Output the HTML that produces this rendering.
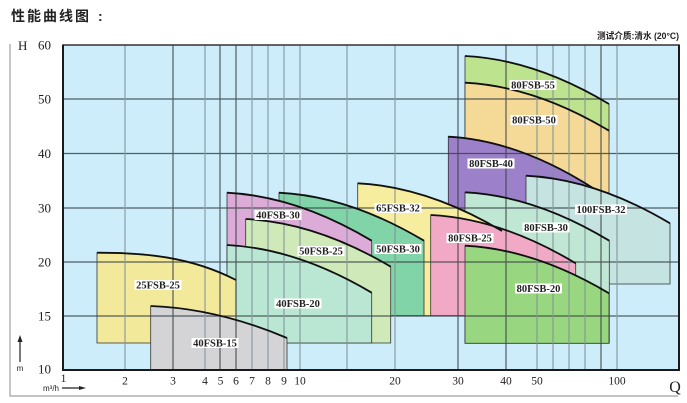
<!DOCTYPE html>
<html>
<head>
<meta charset="utf-8">
<style>
  html,body{margin:0;padding:0;background:#fff;}
  svg{display:block;}
  .lbl{font-family:"Liberation Serif",serif;font-weight:bold;font-size:10.5px;fill:#222;}
  .tk{font-family:"Liberation Serif",serif;font-size:13px;fill:#222;}
  .xt{font-family:"Liberation Serif",serif;font-size:11.5px;fill:#222;}
</style>
</head>
<body>
<svg width="687" height="403" viewBox="0 0 687 403" xmlns="http://www.w3.org/2000/svg">
  <rect width="687" height="403" fill="#fff"/>

  <!-- title -->
  <text x="11" y="21" font-family="'Liberation Sans','Noto Sans CJK SC',sans-serif" font-weight="bold" font-size="14" letter-spacing="2" fill="#222">性能曲线图</text>
  <text x="98" y="21" font-family="'Liberation Sans','Noto Sans CJK SC',sans-serif" font-weight="bold" font-size="14" fill="#222">:</text>
  <text x="679" y="39" text-anchor="end" textLength="82" lengthAdjust="spacingAndGlyphs" font-family="'Liberation Sans','Noto Sans CJK SC',sans-serif" font-weight="bold" font-size="9" fill="#222">测试介质:清水 (20°C)</text>

  <!-- outer frame lines -->
  <path d="M10,44 V396 H678" stroke="#a0a0a0" fill="none" stroke-width="1.2"/>

  <!-- plot background -->
  <rect x="63" y="45" width="616" height="325" fill="#ccedf9"/>

  <!-- shapes -->
  <g stroke="#333" stroke-width="0.8">
    <path d="M465,140 V56 C513,58.4 561,75.2 609,104 V140 Z" fill="#bde38f"/>
    <path d="M465,200 V82.7 C513,85.1 561,101.9 609,130.7 V200 Z" fill="#f5d996"/>
    <path d="M448.3,250 V136.7 C496.6,139.3 545,157.3 593.3,188.3 V250 Z" fill="#9c80c9"/>
    <path d="M526,284 V175.7 C574,178.1 622,194.7 670,223.3 V284 Z" fill="#c4e3e1"/>
    <path d="M465,343 V192.3 C513.1,194.7 561.2,211.7 609.3,240.7 V343 Z" fill="#bfe7d3"/>
    <path d="M357.7,315.7 V183.3 C405.8,185.7 453.9,202.4 502,231 V315.7 Z" fill="#f6ed9e"/>
    <path d="M279,315.7 V192.7 C327.3,195.1 375.7,211.9 424,240.7 V315.7 Z" fill="#80d4a7"/>
    <path d="M227,270 V192.7 C275.2,195.1 323.5,211.9 371.7,240.7 V270 Z" fill="#dcabd7"/>
    <path d="M245.7,343 V219 C294,221.4 342.4,238.1 390.7,266.7 V343 Z" fill="#cfe9b8"/>
    <path d="M227,343 V245 C275.2,247.4 323.5,264.1 371.7,292.7 V343 Z" fill="#bae7d4"/>
    <path d="M97,343 V252.7 C143.3,252.7 189.7,256.2 236,280 V343 Z" fill="#f3e99b"/>
    <path d="M150.7,370 V306 C196.1,307.6 241.6,318.8 287,338 V370 Z" fill="#d4d4d7"/>
    <path d="M430.7,315.7 V215 C479,217.4 527.4,234.3 575.7,263.3 V315.7 Z" fill="#f1a9c5"/>
    <path d="M465,343.3 V245.7 C513,248.1 561,264.7 609,293.3 V343.3 Z" fill="#99d680"/>
  </g>

  <!-- gridlines (over shapes) -->
  <g stroke-width="1.2" opacity="0.85">
    <g stroke="#3b4449">
      <line x1="63" y1="99" x2="679" y2="99"/>
      <line x1="63" y1="153.5" x2="679" y2="153.5"/>
      <line x1="63" y1="208" x2="679" y2="208"/>
      <line x1="63" y1="262" x2="679" y2="262"/>
      <line x1="63" y1="316" x2="679" y2="316"/>
      <line x1="173" y1="45" x2="173" y2="370"/>
      <line x1="220" y1="45" x2="220" y2="370"/>
      <line x1="236" y1="45" x2="236" y2="370"/>
      <line x1="458" y1="45" x2="458" y2="370"/>
      <line x1="506" y1="45" x2="506" y2="370"/>
      <line x1="601" y1="45" x2="601" y2="370"/>
    </g>
    <g stroke="#7f929a">
      <line x1="125" y1="45" x2="125" y2="370"/>
      <line x1="205" y1="45" x2="205" y2="370"/>
      <line x1="252" y1="45" x2="252" y2="370"/>
      <line x1="268" y1="45" x2="268" y2="370"/>
      <line x1="284" y1="45" x2="284" y2="370"/>
      <line x1="300" y1="45" x2="300" y2="370"/>
      <line x1="347" y1="45" x2="347" y2="370"/>
      <line x1="395" y1="45" x2="395" y2="370"/>
      <line x1="537" y1="45" x2="537" y2="370"/>
      <line x1="553" y1="45" x2="553" y2="370"/>
      <line x1="569" y1="45" x2="569" y2="370"/>
      <line x1="585" y1="45" x2="585" y2="370"/>
      <line x1="617" y1="45" x2="617" y2="370"/>
    </g>
  </g>

  <!-- top curve strokes -->
  <g stroke="#111" stroke-width="1.8" fill="none">
    <path d="M465,56 C513,58.4 561,75.2 609,104"/>
    <path d="M465,82.7 C513,85.1 561,101.9 609,130.7"/>
    <path d="M448.3,136.7 C496.6,139.3 545,157.3 593.3,188.3"/>
    <path d="M526,175.7 C574,178.1 622,194.7 670,223.3"/>
    <path d="M465,192.3 C513.1,194.7 561.2,211.7 609.3,240.7"/>
    <path d="M357.7,183.3 C405.8,185.7 453.9,202.4 502,231"/>
    <path d="M279,192.7 C327.3,195.1 375.7,211.9 424,240.7"/>
    <path d="M227,192.7 C275.2,195.1 323.5,211.9 371.7,240.7"/>
    <path d="M245.7,219 C294,221.4 342.4,238.1 390.7,266.7"/>
    <path d="M227,245 C275.2,247.4 323.5,264.1 371.7,292.7"/>
    <path d="M97,252.7 C143.3,252.7 189.7,256.2 236,280"/>
    <path d="M150.7,306 C196.1,307.6 241.6,318.8 287,338"/>
    <path d="M430.7,215 C479,217.4 527.4,234.3 575.7,263.3"/>
    <path d="M465,245.7 C513,248.1 561,264.7 609,293.3"/>
  </g>

  <!-- plot border -->
  <line x1="63" y1="45" x2="679" y2="45" stroke="#333" stroke-width="1.6"/>
  <path d="M63,44.5 V370 H679 V44.5" stroke="#1a1a1a" stroke-width="2" fill="none"/>

  <!-- series labels -->
  <g fill="#fff">
    <rect x="509.5" y="80" width="47" height="10"/>
    <rect x="510.5" y="115" width="47" height="10"/>
    <rect x="467.5" y="158.5" width="47" height="10"/>
    <rect x="575" y="204.5" width="52" height="10"/>
    <rect x="522.5" y="222.5" width="47" height="10"/>
    <rect x="446.5" y="233" width="47" height="10"/>
    <rect x="515" y="283.5" width="47" height="10"/>
    <rect x="374.5" y="203" width="47" height="10"/>
    <rect x="374.5" y="244" width="47" height="10"/>
    <rect x="254.5" y="210" width="47" height="10"/>
    <rect x="297.5" y="246" width="47" height="10"/>
    <rect x="274.5" y="298.5" width="47" height="10"/>
    <rect x="134.5" y="280" width="47" height="10"/>
    <rect x="191.5" y="338" width="47" height="10"/>
  </g>
  <g class="lbl" text-anchor="middle">
    <text x="533" y="88.7">80FSB-55</text>
    <text x="534" y="123.7">80FSB-50</text>
    <text x="491" y="167.2">80FSB-40</text>
    <text x="601" y="213.2">100FSB-32</text>
    <text x="546" y="231.2">80FSB-30</text>
    <text x="470" y="241.7">80FSB-25</text>
    <text x="538.5" y="292.2">80FSB-20</text>
    <text x="398" y="211.7">65FSB-32</text>
    <text x="398" y="252.7">50FSB-30</text>
    <text x="278" y="218.7">40FSB-30</text>
    <text x="321" y="254.7">50FSB-25</text>
    <text x="298" y="307.2">40FSB-20</text>
    <text x="158" y="288.7">25FSB-25</text>
    <text x="215" y="346.7">40FSB-15</text>
  </g>

  <!-- Y axis labels -->
  <text x="18" y="50" class="tk">H</text>
  <g class="tk" text-anchor="end">
    <text x="51" y="49.5">60</text>
    <text x="51" y="103.5">50</text>
    <text x="51" y="158">40</text>
    <text x="51" y="212.5">30</text>
    <text x="51" y="266.5">20</text>
    <text x="51" y="320.5">15</text>
    <text x="51" y="373.5">10</text>
  </g>
  <!-- m arrow -->
  <line x1="20" y1="340" x2="20" y2="362" stroke="#222" stroke-width="1.2"/>
  <path d="M17.5,342 L20,335 L22.5,342 Z" fill="#222"/>
  <text x="20" y="371" text-anchor="middle" font-family="'Liberation Sans',sans-serif" font-size="8" fill="#222">m</text>

  <!-- X axis labels -->
  <text x="63.5" y="382" text-anchor="middle" class="xt" font-size="10">1</text>
  <g class="xt" text-anchor="middle">
    <text x="125" y="384.5">2</text>
    <text x="173" y="384.5">3</text>
    <text x="205" y="384.5">4</text>
    <text x="220.5" y="384.5">5</text>
    <text x="236" y="384.5">6</text>
    <text x="252" y="384.5">7</text>
    <text x="268" y="384.5">8</text>
    <text x="284" y="384.5">9</text>
    <text x="300" y="384.5">10</text>
    <text x="395" y="384.5">20</text>
    <text x="458" y="384.5">30</text>
    <text x="506" y="384.5">40</text>
    <text x="537" y="384.5">50</text>
    <text x="617" y="384.5">100</text>
  </g>
  <text x="675" y="392" text-anchor="middle" font-family="'Liberation Serif',serif" font-size="16" fill="#222">Q</text>
  <text x="43" y="391" font-family="'Liberation Sans',sans-serif" font-size="8" fill="#222">m³/h</text>
  <line x1="62" y1="388" x2="80" y2="388" stroke="#222" stroke-width="1.2"/>
  <path d="M79,386 L86,388 L79,390 Z" fill="#222"/>
</svg>
</body>
</html>
